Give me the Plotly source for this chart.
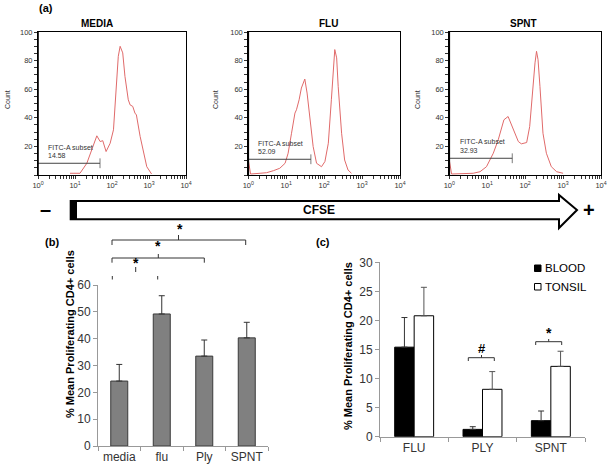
import plotly.graph_objects as go

W, H = 607, 467
FONT = "Arial, Liberation Sans, sans-serif"

# ---------------- data ----------------
# (a) CFSE histograms: log10(FITC-A) positions and counts
media_log = [0.865, 1.135, 1.32, 1.49, 1.59, 1.68, 1.75, 1.84, 1.95, 2.04, 2.13, 2.17, 2.22, 2.29,
             2.35, 2.44, 2.49, 2.56, 2.62, 2.66, 2.76, 2.83, 2.86, 2.94, 3.07]
media_count = [1.2, 1.2, 8.2, 19.9, 27.4, 23.4, 24, 16.4, 22.2, 31.6, 66.7, 83, 90, 85.4,
               69, 52.6, 49, 48, 43.3, 42, 27, 18.7, 15.2, 5.8, 0.7]
flu_log = [0.0, 0.06, 0.31, 0.48, 0.66, 0.83, 0.97, 1.05, 1.14, 1.23, 1.27, 1.34, 1.40, 1.49, 1.55,
           1.62, 1.71, 1.80, 1.93, 2.02, 2.11, 2.19, 2.24, 2.28, 2.33, 2.37, 2.46, 2.54, 2.63, 2.72]
flu_count = [10.5, 0.7, 1.2, 1.6, 3.0, 4.7, 8.2, 15.2, 29.2, 43.3, 45.6, 52.6, 60.8, 67.1, 57.3,
             38.6, 19.9, 8.2, 5.8, 9.4, 22.2, 52.6, 76, 87.7, 81.9, 62, 29.2, 10.5, 3.5, 1.2]
spnt_log = [0.0, 0.06, 0.63, 0.81, 0.98, 1.16, 1.29, 1.38, 1.44, 1.55, 1.64, 1.73, 1.82, 1.90,
            2.04, 2.12, 2.21, 2.26, 2.30, 2.34, 2.39, 2.47, 2.56, 2.69, 2.83, 3.0]
spnt_count = [10.5, 0.7, 1.2, 2.3, 5.8, 15.2, 24.6, 33.9, 38.6, 40.9, 35.1, 30.4, 23.4, 21.8,
              22.7, 33.9, 64.3, 78.4, 86.5, 80.7, 62, 29.2, 15.2, 5.8, 2.3, 1.2]
hist_titles = ["MEDIA", "FLU", "SPNT"]
gate_pct = ["14.58", "52.09", "32.93"]
gate_end_log = [1.676, 1.65, 1.66]
gate_level = [8.2, 11.0, 11.7]

# (b)
cats_b = ["media", "flu", "Ply", "SPNT"]
vals_b = [24.2, 49.2, 33.5, 40.3]
err_b = [6.2, 6.8, 6.0, 5.8]

# (c)
cats_c = ["FLU", "PLY", "SPNT"]
blood = [15.4, 1.26, 2.76]
blood_err = [5.1, 0.46, 1.66]
tonsil = [20.8, 8.15, 12.1]
tonsil_err = [4.9, 3.05, 2.6]

# ---------------- helpers ----------------
def px(x):
    return x / W

def py(y):
    return 1 - y / H

fig = go.Figure()
annotations = []
shapes = []

def text(x, y, t, size, color="black", **kw):
    d = dict(x=px(x), y=py(y), xref="paper", yref="paper", text=t, xanchor="center",
             yanchor="middle", showarrow=False, font=dict(size=size, color=color, family=FONT))
    d.update(kw)
    annotations.append(d)

def seg(x0, y0, x1, y1, color="#333", width=1):
    shapes.append(dict(type="line", xref="paper", yref="paper", x0=px(x0), y0=py(y0),
                       x1=px(x1), y1=py(y1), line=dict(color=color, width=width)))

# ---------------- (a) histograms ----------------
hist_data = [(media_log, media_count), (flu_log, flu_count), (spnt_log, spnt_count)]
hist_x = [(38, 186), (248.3, 400), (449.3, 601)]
hist_top, hist_bot = 32, 175
title_cx = [97, 328, 523]
count_x = [7, 215, 417]
gate_lbl = [(45.7, 147.3), (256, 143.3), (458.3, 141.7)]

major = [1, 10, 100, 1000, 10000]
minor = [m * 10 ** e for e in range(4) for m in range(2, 10)]
xt_vals = major + minor
xt_text = ["10<sup>%d</sup>" % i for i in range(5)] + [""] * len(minor)
yt_vals = list(range(0, 101, 5))
yt_text = [str(v) if v % 20 == 0 and v > 0 else "" for v in yt_vals]

for i, ((lg, ct), (x0, x1)) in enumerate(zip(hist_data, hist_x)):
    n = "" if i == 0 else str(i + 1)
    xa, ya = "x" + n, "y" + n
    fig.add_trace(go.Scatter(x=[10 ** v for v in lg], y=ct, mode="lines",
                             line=dict(color="#e06a6a", width=1), xaxis=xa, yaxis=ya,
                             showlegend=False, hoverinfo="skip"))
    fig.add_trace(go.Scatter(x=[1, 10 ** gate_end_log[i]], y=[gate_level[i]] * 2,
                             mode="lines+markers", line=dict(color="#444", width=1),
                             marker=dict(symbol="line-ns", size=[0, 7],
                                         line=dict(color="#444", width=1)),
                             xaxis=xa, yaxis=ya, showlegend=False, hoverinfo="skip",
                             cliponaxis=False))
    axis_common = dict(showline=True, linecolor="black", linewidth=1, mirror=True,
                       ticks="outside", tickcolor="#333", ticklen=3,
                       tickfont=dict(size=7.5, color="#333", family=FONT), showgrid=False,
                       zeroline=False)
    fig.layout["xaxis" + n] = dict(axis_common, type="log", range=[0, 4],
                                   domain=[px(x0), px(x1)], anchor=ya,
                                   tickmode="array", tickvals=xt_vals, ticktext=xt_text)
    fig.layout["yaxis" + n] = dict(axis_common, range=[0, 100],
                                   domain=[py(hist_bot), py(hist_top)], anchor=xa,
                                   tickmode="array", tickvals=yt_vals, ticktext=yt_text)
    seg(x0, hist_top, x0, hist_bot, "black", 1.6)
    text(title_cx[i], 23, "<b>%s</b>" % hist_titles[i], 10)
    text(count_x[i], 100, "Count", 7, "#333", textangle=-90)
    gx, gy = gate_lbl[i]
    text(gx, gy, "FITC-A subset", 7, "#333", xanchor="left")
    text(gx, gy + 8.5, gate_pct[i], 7, "#333", xanchor="left")

# ---------------- CFSE arrow ----------------
def path(points):
    return "M " + " L ".join("%f,%f" % (px(a), py(b)) for a, b in points) + " Z"

shapes.append(dict(type="path", xref="paper", yref="paper",
                   path=path([(70.7, 201), (559, 201), (559, 195), (577, 210), (559, 228),
                              (559, 219.3), (70.7, 219.3)]),
                   fillcolor="white", line=dict(color="black", width=2)))
shapes.append(dict(type="rect", xref="paper", yref="paper", x0=px(70.7), x1=px(77),
                   y0=py(219.3), y1=py(201), fillcolor="black", line=dict(width=0)))
text(319, 210, "<b>CFSE</b>", 12)
text(45, 209, "<b>\u2013</b>", 20)
text(589, 210, "<b>+</b>", 20)
text(46, 8, "<b>(a)</b>", 11)
text(52, 242, "<b>(b)</b>", 11)
text(323, 242, "<b>(c)</b>", 11)

# ---------------- (b) ----------------
fig.add_trace(go.Bar(x=cats_b, y=vals_b, width=0.4,
                     marker=dict(color="#808080", line=dict(color="#3a3a3a", width=1)),
                     error_y=dict(type="data", symmetric=False, array=err_b,
                                  arrayminus=[0] * len(err_b), color="#333", thickness=1, width=3),
                     xaxis="x4", yaxis="y4", showlegend=False))
bar_axis = dict(showline=True, linecolor="#999", linewidth=1, ticks="outside", tickcolor="#999",
                ticklen=4, showgrid=False, zeroline=False, tickangle=0,
                tickfont=dict(size=12, color="#333", family=FONT))
fig.layout.xaxis4 = dict(bar_axis, domain=[px(98), px(268)], anchor="y4", tickson="boundaries")
fig.layout.yaxis4 = dict(bar_axis, domain=[py(446), py(285)], anchor="x4", range=[0, 60],
                         dtick=10)
text(70, 334, "<b>% Mean Proliferating CD4+ cells</b>", 11, textangle=-90)

# top bracket media-SPNT
seg(112, 240, 245.7, 240); seg(112, 240, 112, 245); seg(245.7, 240, 245.7, 245)
seg(178.5, 240, 178.5, 235)
text(179.5, 229, "<b>*</b>", 14)
# middle bracket media-Ply
seg(112, 258, 204.3, 258); seg(112, 258, 112, 262.7); seg(204.3, 258, 204.3, 262.7)
seg(158.3, 258, 158.3, 254)
text(158.5, 246, "<b>*</b>", 14)
# lower bracket media-flu (ticks only)
seg(112.3, 276, 112.3, 279.5); seg(157.7, 276, 157.7, 279.5); seg(135.7, 267, 135.7, 272)
text(135.7, 263, "<b>*</b>", 14)

# ---------------- (c) ----------------
fig.add_trace(go.Bar(x=cats_c, y=blood, name="BLOOD",
                     marker=dict(color="black", line=dict(color="black", width=1)),
                     error_y=dict(type="data", symmetric=False, array=blood_err,
                                  arrayminus=[0] * 3, color="#333", thickness=1, width=3),
                     xaxis="x5", yaxis="y5", showlegend=False))
fig.add_trace(go.Bar(x=cats_c, y=tonsil, name="TONSIL",
                     marker=dict(color="white", line=dict(color="black", width=1)),
                     error_y=dict(type="data", symmetric=False, array=tonsil_err,
                                  arrayminus=[0] * 3, color="#555", thickness=1, width=3),
                     xaxis="x5", yaxis="y5", showlegend=False))
fig.layout.xaxis5 = dict(bar_axis, domain=[px(380), px(585)], anchor="y5", tickson="boundaries")
fig.layout.yaxis5 = dict(bar_axis, domain=[py(436.7), py(262.3)], anchor="x5", range=[0, 30],
                         dtick=5)
text(348, 346, "<b>% Mean Proliferating CD4+ cells</b>", 11, textangle=-90)

# legend (c)
shapes.append(dict(type="rect", xref="paper", yref="paper", x0=px(534.5), x1=px(541),
                   y0=py(271.5), y1=py(265), fillcolor="black", line=dict(color="black", width=1)))
shapes.append(dict(type="rect", xref="paper", yref="paper", x0=px(534.5), x1=px(541),
                   y0=py(290), y1=py(283.5), fillcolor="white", line=dict(color="black", width=1)))
text(543, 268.3, "BLOOD", 11.5, xanchor="left")
text(543, 286.7, "TONSIL", 11.5, xanchor="left")

# brackets (c)
seg(468.3, 357.7, 494.3, 357.7); seg(468.3, 357.7, 468.3, 361); seg(494.3, 357.7, 494.3, 361)
seg(481.5, 357.7, 481.5, 355)
text(481.7, 348, "<b>#</b>", 13)
seg(535.7, 341.7, 561.7, 341.7); seg(535.7, 341.7, 535.7, 345); seg(561.7, 341.7, 561.7, 345)
seg(548.7, 341.7, 548.7, 339)
text(548.7, 333, "<b>*</b>", 14)

fig.update_layout(width=W, height=H, margin=dict(l=0, r=0, t=0, b=0, autoexpand=False),
                  paper_bgcolor="white", plot_bgcolor="white", barmode="group",
                  bargap=0.43, bargroupgap=0, annotations=annotations, shapes=shapes,
                  font=dict(family=FONT))

fig.write_html("out.html", config={"displayModeBar": False},
               post_script="document.body.style.margin='0px';")
